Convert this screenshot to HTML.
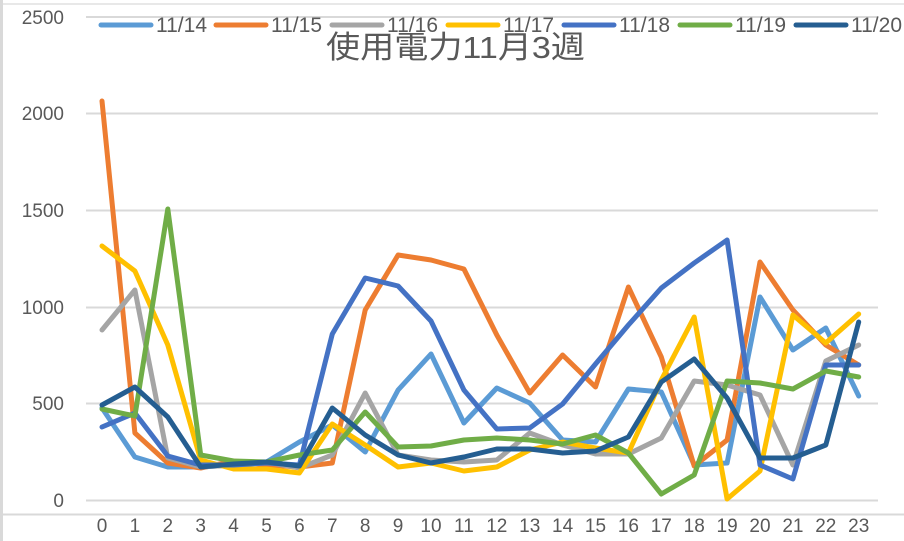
<!DOCTYPE html>
<html><head><meta charset="utf-8"><style>
html,body{margin:0;padding:0;background:#fff;}
svg{display:block;}
text{font-family:"Liberation Sans","Noto Sans CJK JP",sans-serif;fill:#595959;}
</style></head><body>
<svg width="904" height="541" viewBox="0 0 904 541" xmlns="http://www.w3.org/2000/svg">
<rect x="0" y="0" width="904" height="541" fill="#fff"/>
<line x1="0" y1="4" x2="904" y2="4" stroke="#e0e0e0" stroke-width="1.5"/>
<line x1="1.5" y1="0" x2="1.5" y2="541" stroke="#d9d9d9" stroke-width="3"/>
<line x1="3" y1="514.5" x2="904" y2="514.5" stroke="#d9d9d9" stroke-width="2"/>
<g stroke="#d9d9d9" stroke-width="2">
<line x1="86" y1="17" x2="878" y2="17"/>
<line x1="86" y1="113.5" x2="878" y2="113.5"/>
<line x1="86" y1="210.5" x2="878" y2="210.5"/>
<line x1="86" y1="307.5" x2="878" y2="307.5"/>
<line x1="86" y1="403.5" x2="878" y2="403.5"/>
<line x1="86" y1="500.5" x2="878" y2="500.5"/>
</g>
<g font-size="19" text-anchor="end">
<text x="64" y="24">2500</text>
<text x="64" y="120">2000</text>
<text x="64" y="217">1500</text>
<text x="64" y="314">1000</text>
<text x="64" y="410">500</text>
<text x="64" y="507">0</text>
</g>
<g font-size="19" text-anchor="middle">
<text x="102" y="532">0</text><text x="134.9" y="532">1</text><text x="167.8" y="532">2</text><text x="200.7" y="532">3</text><text x="233.6" y="532">4</text><text x="266.5" y="532">5</text><text x="299.4" y="532">6</text><text x="332.3" y="532">7</text><text x="365.2" y="532">8</text><text x="398.1" y="532">9</text><text x="431" y="532">10</text><text x="463.9" y="532">11</text><text x="496.8" y="532">12</text><text x="529.7" y="532">13</text><text x="562.6" y="532">14</text><text x="595.5" y="532">15</text><text x="628.4" y="532">16</text><text x="661.3" y="532">17</text><text x="694.2" y="532">18</text><text x="727.1" y="532">19</text><text x="760" y="532">20</text><text x="792.9" y="532">21</text><text x="825.8" y="532">22</text><text x="858.7" y="532">23</text>
</g>
<g fill="none" stroke-width="5" stroke-linejoin="round" stroke-linecap="round">
<polyline stroke="#5B9BD5" points="102,408 134.9,457 167.8,467 200.7,467 233.6,465 266.5,462 299.4,442 332.3,425 365.2,452 398.1,390 431,354 463.9,423 496.8,388 529.7,403 562.6,440 595.5,442 628.4,389 661.3,392 694.2,465 727.1,463 760,297 792.9,350 825.8,328 858.7,396"/>
<polyline stroke="#ED7D31" points="102,101 134.9,433 167.8,463 200.7,468 233.6,461 266.5,465 299.4,467 332.3,463 365.2,310 398.1,255 431,260 463.9,269 496.8,335 529.7,393 562.6,355 595.5,387 628.4,287 661.3,357 694.2,466 727.1,440 760,262 792.9,310 825.8,345 858.7,365"/>
<polyline stroke="#A5A5A5" points="102,330 134.9,290 167.8,458 200.7,467 233.6,465 266.5,462 299.4,468 332.3,455 365.2,393 398.1,455 431,460 463.9,462 496.8,460 529.7,433 562.6,445 595.5,454 628.4,454 661.3,438 694.2,381 727.1,385 760,395 792.9,465 825.8,361 858.7,345"/>
<polyline stroke="#FFC000" points="102,246 134.9,271 167.8,345 200.7,460 233.6,469 266.5,469 299.4,473 332.3,424 365.2,445 398.1,467 431,463 463.9,471 496.8,467 529.7,450 562.6,442 595.5,448 628.4,453 661.3,380 694.2,317 727.1,499 760,471 792.9,315 825.8,343 858.7,314"/>
<polyline stroke="#4472C4" points="102,427 134.9,413 167.8,456 200.7,465 233.6,465 266.5,463 299.4,465 332.3,334 365.2,278 398.1,286 431,321 463.9,390 496.8,429 529.7,428 562.6,404 595.5,364 628.4,325 661.3,288 694.2,263 727.1,240 760,465 792.9,479 825.8,365 858.7,365"/>
<polyline stroke="#70AD47" points="102,409 134.9,416 167.8,209 200.7,455 233.6,461 266.5,462 299.4,455 332.3,450 365.2,412 398.1,447 431,446 463.9,440 496.8,438 529.7,440 562.6,444 595.5,435 628.4,453 661.3,494 694.2,475 727.1,381 760,383 792.9,389 825.8,371 858.7,377"/>
<polyline stroke="#255E91" points="102,405 134.9,387 167.8,417 200.7,467 233.6,464 266.5,462 299.4,466 332.3,408 365.2,435 398.1,455 431,463 463.9,457 496.8,449 529.7,449 562.6,453 595.5,451 628.4,437 661.3,382 694.2,359 727.1,398 760,458 792.9,458 825.8,445 858.7,322"/>
</g>
<g stroke-width="5" stroke-linecap="round">
<line x1="101" y1="25" x2="151" y2="25" stroke="#5B9BD5"/>
<line x1="216" y1="25" x2="266" y2="25" stroke="#ED7D31"/>
<line x1="332" y1="25" x2="382" y2="25" stroke="#A5A5A5"/>
<line x1="448" y1="25" x2="498" y2="25" stroke="#FFC000"/>
<line x1="564" y1="25" x2="614" y2="25" stroke="#4472C4"/>
<line x1="680" y1="25" x2="730" y2="25" stroke="#70AD47"/>
<line x1="796" y1="25" x2="846" y2="25" stroke="#255E91"/>
</g>
<g font-size="21">
<text x="156" y="32">11/14</text>
<text x="271" y="32">11/15</text>
<text x="387" y="32">11/16</text>
<text x="503" y="32">11/17</text>
<text x="619" y="32">11/18</text>
<text x="735" y="32">11/19</text>
<text x="851" y="32">11/20</text>
</g>
<text x="326" y="58" font-size="31" textLength="259" lengthAdjust="spacingAndGlyphs">使用電力11月3週</text>
</svg>
</body></html>
